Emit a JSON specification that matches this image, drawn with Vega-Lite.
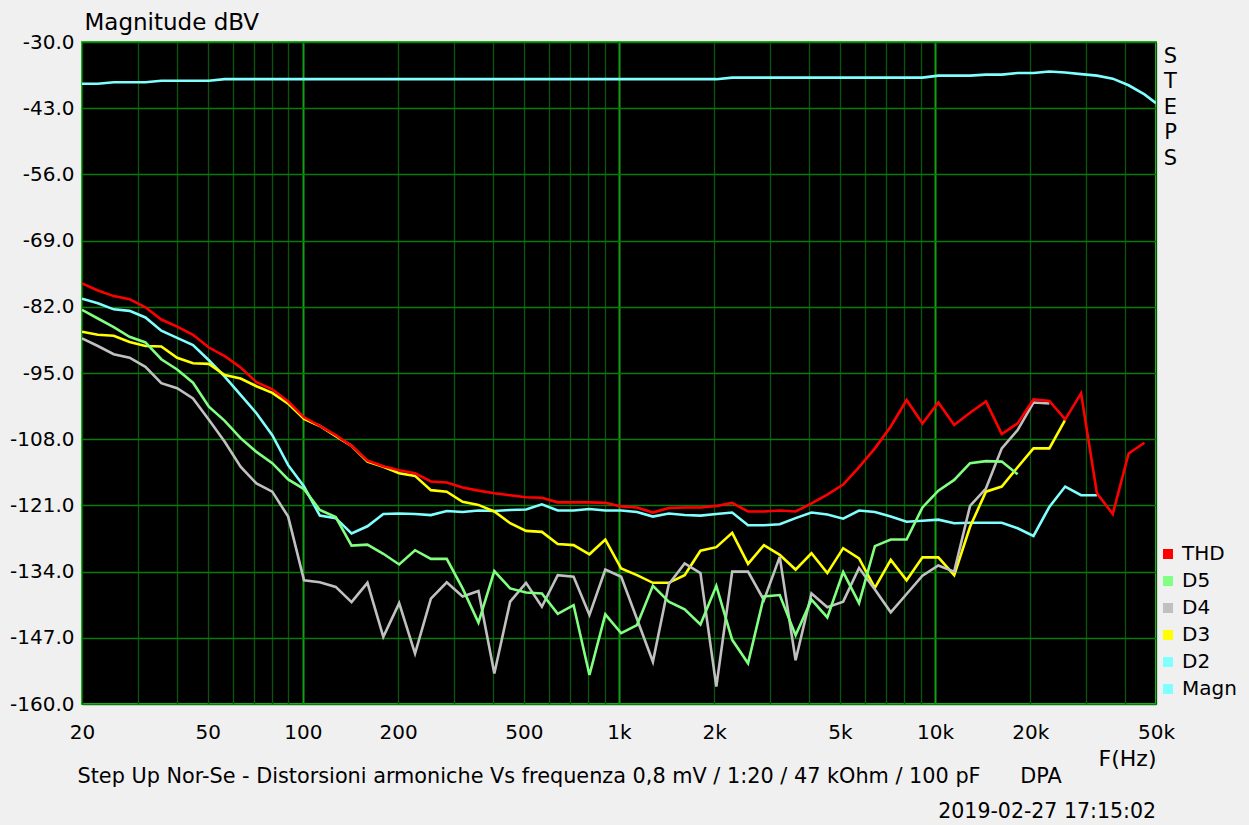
{
  "$schema": "https://vega.github.io/schema/vega-lite/v6.json",
  "width": 1074,
  "height": 662,
  "autosize": {"type": "none"},
  "padding": {"left": 82, "top": 42, "right": 93, "bottom": 121},
  "background": "#f0f0f0",
  "config": {
    "font": "DejaVu Sans",
    "view": {"fill": "black", "stroke": "#22c022", "strokeWidth": 2}
  },
  "title": {
    "text": "2019-02-27 17:15:02",
    "orient": "bottom",
    "anchor": "end",
    "frame": "group",
    "font": "DejaVu Sans",
    "fontSize": 20.5,
    "fontWeight": "normal",
    "color": "#000000",
    "offset": 16
  },
  "data": {
    "values": [
      {"f": 20, "THD": -77.4, "D5": -82.6, "D4": -88.2, "D3": -86.9, "D2": -80.4, "Magn": -38.2},
      {"f": 22.45, "THD": -78.8, "D5": -84.3, "D4": -89.7, "D3": -87.5, "D2": -81.3, "Magn": -38.2},
      {"f": 25.2, "THD": -79.9, "D5": -86.0, "D4": -91.3, "D3": -87.7, "D2": -82.5, "Magn": -37.9},
      {"f": 28.28, "THD": -80.5, "D5": -87.9, "D4": -92.0, "D3": -88.9, "D2": -82.8, "Magn": -37.9},
      {"f": 31.75, "THD": -82.1, "D5": -89.0, "D4": -93.8, "D3": -89.7, "D2": -84.1, "Magn": -37.9},
      {"f": 35.64, "THD": -84.5, "D5": -92.3, "D4": -97.0, "D3": -89.8, "D2": -86.7, "Magn": -37.6},
      {"f": 40, "THD": -85.9, "D5": -94.3, "D4": -98.0, "D3": -92.0, "D2": -88.1, "Magn": -37.6},
      {"f": 44.9, "THD": -87.5, "D5": -96.9, "D4": -100.0, "D3": -93.1, "D2": -89.5, "Magn": -37.6},
      {"f": 50.4, "THD": -90.0, "D5": -101.6, "D4": -104.2, "D3": -93.2, "D2": -92.5, "Magn": -37.6},
      {"f": 56.57, "THD": -91.7, "D5": -104.4, "D4": -108.5, "D3": -95.4, "D2": -95.7, "Magn": -37.3},
      {"f": 63.5, "THD": -93.9, "D5": -107.8, "D4": -113.4, "D3": -96.1, "D2": -99.3, "Magn": -37.3},
      {"f": 71.27, "THD": -96.8, "D5": -110.5, "D4": -116.7, "D3": -97.6, "D2": -102.9, "Magn": -37.3},
      {"f": 80, "THD": -98.2, "D5": -112.7, "D4": -118.3, "D3": -98.9, "D2": -107.2, "Magn": -37.3},
      {"f": 89.8, "THD": -100.6, "D5": -115.9, "D4": -123.2, "D3": -101.0, "D2": -113.1, "Magn": -37.3},
      {"f": 100.8, "THD": -103.7, "D5": -117.8, "D4": -135.7, "D3": -104.0, "D2": -117.3, "Magn": -37.3},
      {"f": 113.1, "THD": -105.4, "D5": -121.9, "D4": -136.1, "D3": -105.4, "D2": -123.0, "Magn": -37.3},
      {"f": 127, "THD": -107.2, "D5": -123.3, "D4": -137.0, "D3": -107.4, "D2": -123.5, "Magn": -37.3},
      {"f": 142.5, "THD": -109.3, "D5": -128.9, "D4": -140.0, "D3": -109.3, "D2": -126.5, "Magn": -37.3},
      {"f": 160, "THD": -112.2, "D5": -128.7, "D4": -136.2, "D3": -112.4, "D2": -125.1, "Magn": -37.3},
      {"f": 179.6, "THD": -113.3, "D5": -130.5, "D4": -146.8, "D3": -113.4, "D2": -122.7, "Magn": -37.3},
      {"f": 201.6, "THD": -114.1, "D5": -132.6, "D4": -140.2, "D3": -114.7, "D2": -122.6, "Magn": -37.3},
      {"f": 226.3, "THD": -114.7, "D5": -129.8, "D4": -150.1, "D3": -115.2, "D2": -122.7, "Magn": -37.3},
      {"f": 254, "THD": -116.3, "D5": -131.5, "D4": -139.3, "D3": -118.0, "D2": -122.9, "Magn": -37.3},
      {"f": 285.1, "THD": -116.5, "D5": -131.5, "D4": -136.1, "D3": -118.3, "D2": -122.1, "Magn": -37.3},
      {"f": 320, "THD": -117.5, "D5": -137.3, "D4": -138.9, "D3": -120.3, "D2": -122.3, "Magn": -37.3},
      {"f": 359.2, "THD": -118.1, "D5": -144.0, "D4": -137.8, "D3": -120.9, "D2": -122.0, "Magn": -37.3},
      {"f": 403.2, "THD": -118.6, "D5": -133.9, "D4": -154.0, "D3": -122.2, "D2": -122.1, "Magn": -37.3},
      {"f": 452.5, "THD": -119.0, "D5": -137.3, "D4": -139.9, "D3": -124.5, "D2": -121.9, "Magn": -37.3},
      {"f": 508, "THD": -119.4, "D5": -138.1, "D4": -136.2, "D3": -126.0, "D2": -121.8, "Magn": -37.3},
      {"f": 570.2, "THD": -119.5, "D5": -138.3, "D4": -140.9, "D3": -126.2, "D2": -120.8, "Magn": -37.3},
      {"f": 640, "THD": -120.4, "D5": -142.3, "D4": -134.7, "D3": -128.6, "D2": -122.0, "Magn": -37.3},
      {"f": 718.4, "THD": -120.4, "D5": -140.6, "D4": -135.0, "D3": -128.8, "D2": -122.0, "Magn": -37.3},
      {"f": 806.3, "THD": -120.4, "D5": -154.3, "D4": -142.5, "D3": -130.6, "D2": -121.7, "Magn": -37.3},
      {"f": 905.1, "THD": -120.5, "D5": -142.4, "D4": -133.6, "D3": -127.7, "D2": -122.0, "Magn": -37.3},
      {"f": 1016, "THD": -121.2, "D5": -146.1, "D4": -135.0, "D3": -133.4, "D2": -122.0, "Magn": -37.3},
      {"f": 1140, "THD": -121.4, "D5": -144.5, "D4": -143.3, "D3": -134.7, "D2": -122.3, "Magn": -37.3},
      {"f": 1280, "THD": -122.4, "D5": -136.8, "D4": -151.7, "D3": -136.2, "D2": -123.2, "Magn": -37.3},
      {"f": 1437, "THD": -121.5, "D5": -139.9, "D4": -136.5, "D3": -136.2, "D2": -122.6, "Magn": -37.3},
      {"f": 1613, "THD": -121.4, "D5": -141.4, "D4": -132.4, "D3": -134.7, "D2": -122.9, "Magn": -37.3},
      {"f": 1810, "THD": -121.4, "D5": -144.4, "D4": -134.3, "D3": -129.9, "D2": -123.0, "Magn": -37.3},
      {"f": 2032, "THD": -121.1, "D5": -136.8, "D4": -156.6, "D3": -129.2, "D2": -122.7, "Magn": -37.3},
      {"f": 2281, "THD": -120.5, "D5": -147.4, "D4": -134.0, "D3": -126.4, "D2": -122.4, "Magn": -37.0},
      {"f": 2560, "THD": -122.2, "D5": -152.0, "D4": -134.0, "D3": -132.5, "D2": -124.9, "Magn": -37.0},
      {"f": 2874, "THD": -122.2, "D5": -138.9, "D4": -139.6, "D3": -128.8, "D2": -124.9, "Magn": -37.0},
      {"f": 3225, "THD": -122.0, "D5": -138.6, "D4": -131.1, "D3": -130.7, "D2": -124.7, "Magn": -37.0},
      {"f": 3620, "THD": -122.2, "D5": -146.5, "D4": -151.4, "D3": -133.6, "D2": -123.5, "Magn": -37.0},
      {"f": 4064, "THD": -120.6, "D5": -139.5, "D4": -138.3, "D3": -130.4, "D2": -122.4, "Magn": -37.0},
      {"f": 4561, "THD": -118.9, "D5": -143.0, "D4": -141.0, "D3": -134.3, "D2": -122.8, "Magn": -37.0},
      {"f": 5120, "THD": -116.9, "D5": -134.1, "D4": -139.9, "D3": -129.4, "D2": -123.6, "Magn": -37.0},
      {"f": 5747, "THD": -113.5, "D5": -140.2, "D4": -133.3, "D3": -131.4, "D2": -122.0, "Magn": -37.0},
      {"f": 6451, "THD": -109.8, "D5": -129.0, "D4": -137.5, "D3": -137.2, "D2": -122.3, "Magn": -37.0},
      {"f": 7241, "THD": -105.5, "D5": -127.7, "D4": -142.0, "D3": -131.7, "D2": -123.2, "Magn": -37.0},
      {"f": 8127, "THD": -100.3, "D5": -127.7, "D4": -138.4, "D3": -135.7, "D2": -124.2, "Magn": -37.0},
      {"f": 9123, "THD": -104.9, "D5": -121.4, "D4": -134.8, "D3": -131.2, "D2": -124.0, "Magn": -37.0},
      {"f": 10240, "THD": -100.8, "D5": -118.1, "D4": -132.8, "D3": -131.2, "D2": -123.8, "Magn": -36.6},
      {"f": 11494, "THD": -105.2, "D5": -116.0, "D4": -134.0, "D3": -134.7, "D2": -124.5, "Magn": -36.6},
      {"f": 12902, "THD": -102.8, "D5": -112.7, "D4": -121.1, "D3": -125.2, "D2": -124.4, "Magn": -36.6},
      {"f": 14482, "THD": -100.6, "D5": -112.3, "D4": -117.7, "D3": -118.3, "D2": -124.4, "Magn": -36.4},
      {"f": 16255, "THD": -107.0, "D5": -112.4, "D4": -109.8, "D3": -117.3, "D2": -124.4, "Magn": -36.4},
      {"f": 18246, "THD": -104.9, "D5": -114.9, "D4": -106.2, "D3": -113.5, "D2": -125.5, "Magn": -36.1},
      {"f": 20480, "THD": -100.2, "D4": -100.8, "D3": -109.8, "D2": -127.0, "Magn": -36.1},
      {"f": 22988, "THD": -100.5, "D4": -101.0, "D3": -109.8, "D2": -121.3, "Magn": -35.8},
      {"f": 25803, "THD": -104.1, "D3": -104.2, "D2": -117.3, "Magn": -36.0},
      {"f": 28963, "THD": -99.0, "D2": -119.0, "Magn": -36.3},
      {"f": 32510, "THD": -118.6, "D2": -119.0, "Magn": -36.6},
      {"f": 36491, "THD": -122.7, "Magn": -37.2},
      {"f": 40960, "THD": -110.8, "Magn": -38.5},
      {"f": 45976, "THD": -108.7, "Magn": -40.3},
      {"f": 50000, "Magn": -42.0}
    ]
  },
  "transform": [
    {"fold": ["D2", "D3", "D4", "D5", "THD", "Magn"], "as": ["s", "v"]},
    {"filter": "isValid(datum.v)"}
  ],
  "encoding": {
    "x": {
      "field": "f",
      "type": "quantitative",
      "scale": {"type": "log", "domain": [20, 50000], "nice": false}
    },
    "y": {
      "field": "v",
      "type": "quantitative",
      "scale": {"domain": [-160, -30], "nice": false, "zero": false}
    },
    "color": {
      "field": "s",
      "type": "nominal",
      "scale": {
        "domain": ["THD", "D5", "D4", "D3", "D2", "Magn"],
        "range": ["#ff0000", "#80ff80", "#c0c0c0", "#ffff00", "#80ffff", "#80ffff"]
      },
      "legend": {
        "orient": "none",
        "legendX": 1076,
        "legendY": 502,
        "title": null,
        "padding": 0,
        "symbolType": "square",
        "symbolSize": 100,
        "symbolStrokeWidth": 0,
        "labelFont": "DejaVu Sans",
        "labelFontSize": 20,
        "labelColor": "#000000",
        "labelOffset": 4,
        "rowPadding": 7,
        "encode": {
          "symbols": {"update": {"fill": {"scale": "color", "field": "value"}, "strokeWidth": {"value": 0}, "opacity": {"value": 1}}}
        }
      }
    }
  },
  "layer": [
    {
      "transform": [{"filter": "datum.s != 'Magn'"}],
      "mark": {"type": "line", "strokeWidth": 2.6, "clip": true},
      "encoding": {
        "x": {
          "field": "f",
          "type": "quantitative",
          "axis": {
            "orient": "bottom",
            "values": [20, 30, 40, 50, 60, 70, 80, 90, 100, 200, 300, 400, 500, 600, 700, 800, 900, 1000, 2000, 3000, 4000, 5000, 6000, 7000, 8000, 9000, 10000, 20000, 30000, 40000, 50000],
            "labelExpr": "indexof([20,50,100,200,500,1000,2000,5000,10000,20000,50000], datum.value) >= 0 ? (datum.value >= 1000 ? (datum.value / 1000) + 'k' : datum.value + '') : ''",
            "labelFlush": false,
            "labelOverlap": false,
            "labelBound": false,
            "labelFont": "DejaVu Sans",
            "labelFontSize": 20,
            "labelColor": "#000000",
            "labelBaseline": "middle",
            "labelPadding": 28,
            "tickSize": 0,
            "ticks": false,
            "domain": false,
            "grid": true,
            "gridColor": {"condition": {"test": "datum.value == 100 || datum.value == 1000 || datum.value == 10000", "value": "#12a012"}, "value": "#0a560a"},
            "gridWidth": {"condition": {"test": "datum.value == 100 || datum.value == 1000 || datum.value == 10000", "value": 2}, "value": 1.3},
            "gridOpacity": 1,
            "title": "F(Hz)",
            "titleFont": "DejaVu Sans",
            "titleFontSize": 22,
            "titleFontWeight": "normal",
            "titleColor": "#000000",
            "titleX": 1045,
            "titleY": 54,
            "titleAlign": "center",
            "titleBaseline": "middle"
          }
        },
        "y": {
          "field": "v",
          "type": "quantitative",
          "axis": {
            "orient": "left",
            "values": [-160, -147, -134, -121, -108, -95, -82, -69, -56, -43, -30],
            "labelExpr": "replace(format(datum.value, '.1f'), '\u2212', '-')",
            "labelFont": "DejaVu Sans",
            "labelFontSize": 20,
            "labelColor": "#000000",
            "labelPadding": 8,
            "tickSize": 0,
            "ticks": false,
            "domain": false,
            "grid": true,
            "gridColor": "#0a7a0a",
            "gridWidth": 1.5,
            "gridOpacity": 1,
            "title": "Magnitude dBV",
            "titleFont": "DejaVu Sans",
            "titleAngle": 0,
            "titleAlign": "left",
            "titleBaseline": "middle",
            "titleFontSize": 23,
            "titleFontWeight": "normal",
            "titleColor": "#000000",
            "titleX": 2,
            "titleY": -20
          }
        }
      }
    },
    {
      "transform": [{"filter": "datum.s == 'Magn'"}],
      "mark": {"type": "line", "strokeWidth": 2.6, "clip": true},
      "encoding": {
        "x": {
          "field": "f",
          "type": "quantitative",
          "axis": {
            "orient": "top",
            "grid": false,
            "labels": false,
            "ticks": false,
            "domain": false,
            "title": "Step Up Nor-Se - Distorsioni armoniche Vs frequenza 0,8 mV / 1:20 / 47 kOhm / 100 pF\u00a0\u00a0\u00a0\u00a0\u00a0\u00a0DPA",
            "titleFont": "DejaVu Sans",
            "titleFontSize": 20.8,
            "titleFontWeight": "normal",
            "titleColor": "#000000",
            "titleX": -5,
            "titleY": 734,
            "titleAlign": "left",
            "titleBaseline": "middle"
          }
        },
        "y": {
          "field": "v",
          "type": "quantitative",
          "axis": {
            "orient": "right",
            "grid": false,
            "labels": false,
            "ticks": false,
            "domain": false,
            "title": ["S", "T", "E", "P", "S"],
            "titleFont": "DejaVu Sans",
            "titleAngle": 0,
            "titleAlign": "center",
            "titleBaseline": "top",
            "titleFontSize": 21,
            "titleFontWeight": "normal",
            "titleColor": "#000000",
            "titleLineHeight": 25.5,
            "titleX": 14,
            "titleY": 3
          }
        }
      }
    }
  ],
  "resolve": {"axis": {"x": "independent", "y": "independent"}}
}
